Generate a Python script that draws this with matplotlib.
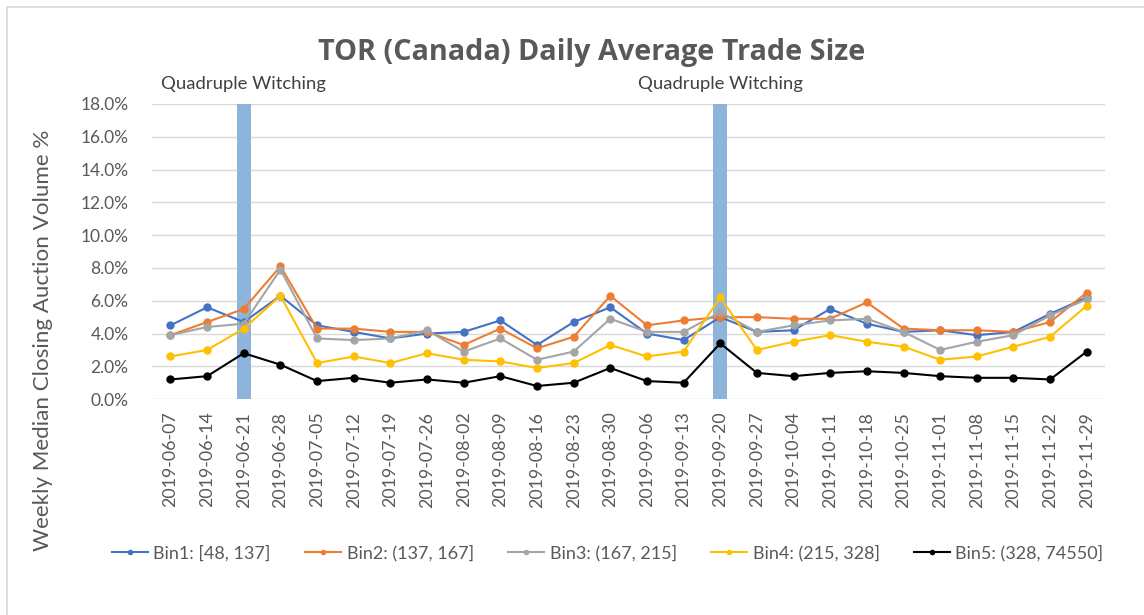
import matplotlib
matplotlib.use('Agg')
import matplotlib.pyplot as plt
from matplotlib.patches import Rectangle
from matplotlib.transforms import blended_transform_factory

plt.rcParams['font.family'] = ['Lato', 'DejaVu Sans']

weeks = ['2019-06-07', '2019-06-14', '2019-06-21', '2019-06-28', '2019-07-05',
         '2019-07-12', '2019-07-19', '2019-07-26', '2019-08-02', '2019-08-09',
         '2019-08-16', '2019-08-23', '2019-08-30', '2019-09-06', '2019-09-13',
         '2019-09-20', '2019-09-27', '2019-10-04', '2019-10-11', '2019-10-18',
         '2019-10-25', '2019-11-01', '2019-11-08', '2019-11-15', '2019-11-22',
         '2019-11-29']

# weekly median closing auction volume, in percent
bin1 = [4.5, 5.6, 4.7, 6.3, 4.5, 4.1, 3.7, 4.0, 4.1, 4.8, 3.3, 4.7, 5.6,
        4.0, 3.6, 5.0, 4.1, 4.2, 5.5, 4.6, 4.1, 4.2, 3.9, 4.1, 5.2, 6.2]
bin2 = [3.9, 4.7, 5.5, 8.1, 4.3, 4.3, 4.1, 4.1, 3.3, 4.3, 3.1, 3.8, 6.3,
        4.5, 4.8, 5.0, 5.0, 4.9, 4.9, 5.9, 4.3, 4.2, 4.2, 4.1, 4.7, 6.5]
bin3 = [3.9, 4.4, 4.6, 7.9, 3.7, 3.6, 3.7, 4.2, 2.9, 3.7, 2.4, 2.9, 4.9,
        4.1, 4.1, 5.3, 4.1, 4.5, 4.8, 4.9, 4.1, 3.0, 3.5, 3.9, 5.1, 6.1]
bin4 = [2.6, 3.0, 4.3, 6.3, 2.2, 2.6, 2.2, 2.8, 2.4, 2.3, 1.9, 2.2, 3.3,
        2.6, 2.9, 6.2, 3.0, 3.5, 3.9, 3.5, 3.2, 2.4, 2.6, 3.2, 3.8, 5.7]
bin5 = [1.2, 1.4, 2.8, 2.1, 1.1, 1.3, 1.0, 1.2, 1.0, 1.4, 0.8, 1.0, 1.9,
        1.1, 1.0, 3.4, 1.6, 1.4, 1.6, 1.7, 1.6, 1.4, 1.3, 1.3, 1.2, 2.9]

labels = ['Bin1: [48, 137]', 'Bin2: (137, 167]', 'Bin3: (167, 215]',
          'Bin4: (215, 328]', 'Bin5: (328, 74550]']
colors = ['#4472c4', '#ed7d31', '#a5a5a5', '#ffc000', '#000000']

witching = ['2019-06-21', '2019-09-20']
ymax = 18.0

txt = '#595959'
fig = plt.figure(figsize=(11.44, 6.15), dpi=100)
fig.patches.append(Rectangle((7/1144, -0.1), 1.2, 1.1 - 7/615, transform=fig.transFigure,
                             fill=False, edgecolor='#d9d9d9', linewidth=1.2))
ax = fig.add_axes([0.133, 0.351, 0.833, 0.480])

x = list(range(len(weeks)))
for w in witching:
    ax.bar(weeks.index(w), ymax, width=0.38, color='#8eb4dc', zorder=1)
    ax.text(weeks.index(w), 1.068, 'Quadruple Witching', ha='center', va='center',
            fontsize=13.3, color='#404040',
            transform=blended_transform_factory(ax.transData, ax.transAxes))

series = [bin1, bin2, bin3, bin4, bin5]
for vals, lab, c in zip(series, labels, colors):
    ax.plot(x, vals, color=c, marker='o', markersize=5, linewidth=1.5,
            label=lab, zorder=3)

ax.set_xlim(-0.5, len(weeks) - 0.5)
ax.set_ylim(0, ymax)
ax.set_yticks([i * 2.0 for i in range(10)])
ax.set_yticklabels(['%.1f%%' % (i * 2.0) for i in range(10)])
ax.set_xticks(x)
ax.set_xticklabels(weeks, rotation=90)
ax.tick_params(axis='both', length=0, colors=txt)
ax.tick_params(axis='y', labelsize=12.5, pad=17)
ax.tick_params(axis='x', labelsize=12.8, pad=9)
ax.grid(axis='y', color='#d9d9d9', linewidth=1, zorder=0)
ax.set_axisbelow(True)
for s in ax.spines.values():
    s.set_visible(False)

# Excel centres the axis title on the whole plot block, tick labels included
ax.set_ylabel('Weekly Median Closing Auction Volume %', fontsize=16.1, color=txt)
ax.yaxis.set_label_coords(-0.104, 0.2)
fig.text(0.517, 0.915, 'TOR (Canada) Daily Average Trade Size', ha='center', va='center',
         fontsize=20.7, fontweight='bold', family=['Open Sans', 'DejaVu Sans'], color=txt)

ax.legend(loc='center', bbox_to_anchor=(0.478, -0.522), ncol=5, frameon=False,
          fontsize=13, labelcolor=txt, handlelength=2.0, handletextpad=0.3,
          columnspacing=1.9, markerscale=0.6)

fig.savefig('out.png', dpi=100)
